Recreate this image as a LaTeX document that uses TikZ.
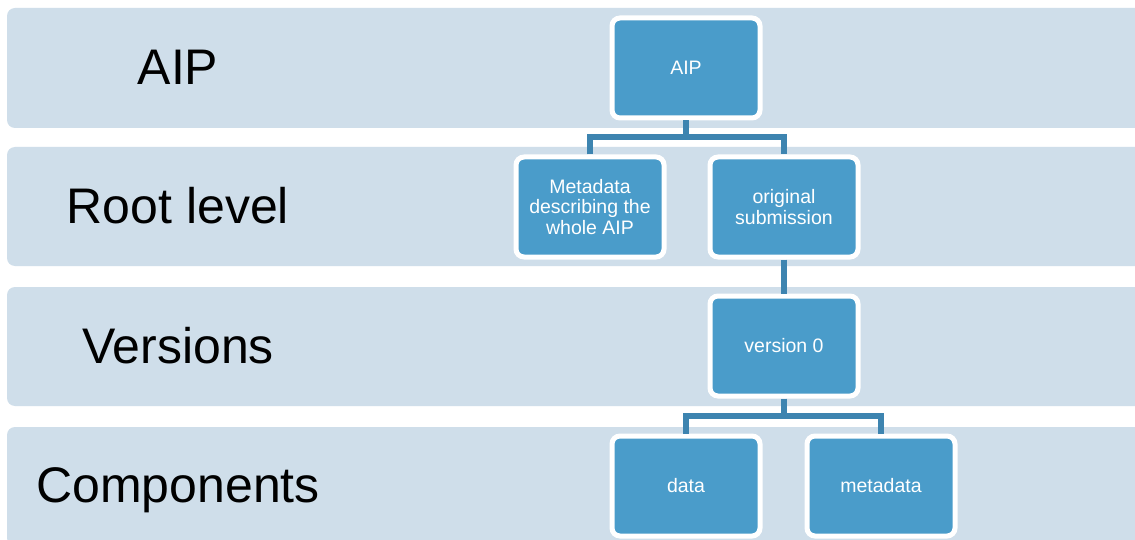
\documentclass[tikz,border=0pt]{standalone}
\usepackage{fontspec}
\setmainfont{Liberation Sans}
\definecolor{bandfill}{RGB}{207,222,234}
\definecolor{boxfill}{RGB}{74,156,202}
\definecolor{connblue}{RGB}{61,132,176}
\tikzset{
  band/.style={fill=bandfill, rounded corners=8pt},
  lvl/.style={text=black, font=\fontsize{50}{60}\selectfont, text height=36pt, text depth=0pt, inner sep=0pt},
  treebox/.style={fill=boxfill, draw=white, line width=5pt, rounded corners=8pt,
    minimum width=148pt, minimum height=100pt, text=white, align=center,
    font=\fontsize{19.5}{20.5}\selectfont, inner sep=2pt},
  conn/.style={draw=connblue, line width=5.5pt}
}
\begin{document}
\begin{tikzpicture}[x=1pt,y=-1pt]
\useasboundingbox (0,0) rectangle (1135,540);
\clip (0,0) rectangle (1135,540);
\fill[white] (0,0) rectangle (1135,540);
% bands
\path[band] (7,8) rectangle (1160,128);
\path[band] (7,147) rectangle (1160,266);
\path[band] (7,287) rectangle (1160,406);
\path[band] (7,427) rectangle (1160,546);
% level labels
\node[lvl] (lAIP) at (178,67) {AIP};
\node[lvl] (lRoot) at (178,205) {Root level};
\node[lvl] (lVer) at (178,345) {Versions};
\node[lvl] (lComp) at (178,484) {Components};
% boxes
\node[treebox] (aip) at (686,68) {AIP};
\node[treebox] (meta) at (590,207) {Metadata\\describing the\\whole AIP};
\node[treebox] (orig) at (784,207) {original\\submission};
\node[treebox] (ver) at (784,346) {version 0};
\node[treebox] (data) at (686,486) {data};
\node[treebox] (cmeta) at (881,486) {metadata};
% junction coordinates
\coordinate (j1) at (686,137);
\coordinate (j2) at (784,416);
% connectors
\draw[conn] (meta.north) |- (j1) -| (orig.north);
\draw[conn] (aip.south) -- (j1);
\draw[conn] (orig.south) -- (ver.north);
\draw[conn] (data.north) |- (j2) -| (cmeta.north);
\draw[conn] (ver.south) -- (j2);
\end{tikzpicture}
\end{document}
